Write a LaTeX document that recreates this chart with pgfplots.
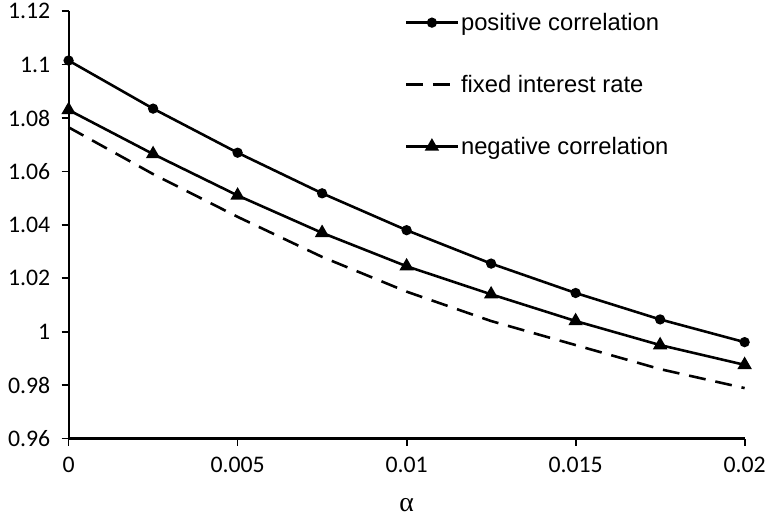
\documentclass[border=0pt]{standalone}
\usepackage{fontspec}
\setmainfont{Carlito}
\newfontfamily\legfont{Liberation Sans}
\newfontfamily\serfont{Liberation Serif}
\usepackage{pgfplots}
\pgfplotsset{compat=1.18}
\begin{document}
\begin{tikzpicture}
\begin{axis}[name=ax, scale only axis, width=680bp, height=430bp,
  xmin=0, xmax=0.02, ymin=0.96, ymax=1.12,
  axis x line=bottom, axis y line=left,
  axis line style={-, line width=2.2bp, black},
  scaled x ticks=false, scaled y ticks=false,
  xtick={0,0.005,0.01,0.015,0.02}, xticklabels={0,0.005,0.01,0.015,0.02},
  ytick={0.96,0.98,1,1.02,1.04,1.06,1.08,1.1,1.12},
  yticklabels={0.96,0.98,1,1.02,1.04,1.06,1.08,1.1,1.12},
  tick align=outside, major tick length=7bp,
  tick style={line width=1.8bp, black},
  /pgf/number format/assume math mode=true,
  ticklabel style={font=\fontsize{24}{29}\selectfont},
  yticklabel style={xshift=-8bp},
  xticklabel style={yshift=-8bp},
  xlabel={\serfont α},
  xlabel style={font=\fontsize{28}{32}\selectfont, inner sep=0pt, at={(axis description cs:0.5,0)}, anchor=center, yshift=-67bp},
  clip=false,
  legend style={draw=none, fill=none, at={(rel axis cs:0.497,1.0)}, anchor=north west,
    font=\legfont\fontsize{24}{28}\selectfont, row sep=39.5bp, cells={anchor=west}, inner sep=0pt},
  legend image code/.code={\draw[mark repeat=2,mark phase=2,#1] plot coordinates {(0bp,0bp)(26bp,0bp)(52bp,0bp)};},
]
\addplot[black, line width=2.6bp, mark=*, mark size=3.8bp] coordinates {
(0,1.1015) (0.0025,1.0835) (0.005,1.067) (0.0075,1.0518) (0.01,1.038) (0.0125,1.0255) (0.015,1.0145) (0.0175,1.0046) (0.02,0.9961)};
\addlegendentry{positive correlation}
\addplot[black, line width=2.6bp, dash pattern=on 17bp off 10bp] coordinates {
(0,1.0765) (0.0025,1.059) (0.005,1.043) (0.0075,1.028) (0.01,1.015) (0.0125,1.004) (0.015,0.995) (0.0175,0.986) (0.02,0.9789)};
\addlegendentry{fixed interest rate}
\addplot[black, line width=2.6bp, mark=triangle*, mark size=5.8bp] coordinates {
(0,1.083) (0.0025,1.0665) (0.005,1.051) (0.0075,1.037) (0.01,1.0245) (0.0125,1.014) (0.015,1.004) (0.0175,0.995) (0.02,0.9876)};
\addlegendentry{negative correlation}
\end{axis}
\path (ax.south west) ++(-69bp,-80.3bp) rectangle ++(769bp,521bp);
\end{tikzpicture}
\end{document}
